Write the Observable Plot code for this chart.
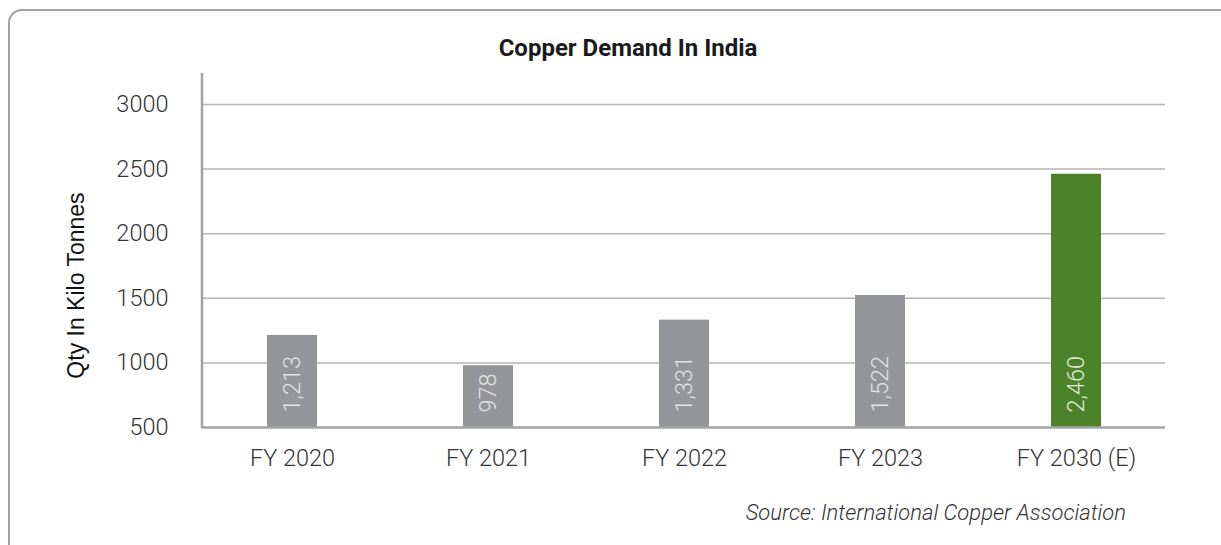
<!DOCTYPE html>
<html>
<head>
<meta charset="utf-8">
<script src="https://cdn.jsdelivr.net/npm/d3@7"></script>
<script src="https://cdn.jsdelivr.net/npm/@observablehq/plot@0.6"></script>
<style>
  html, body { margin: 0; padding: 0; background: #fff; }
  body { width: 1221px; height: 545px; overflow: hidden; position: relative; font-family: Roboto, "Open Sans", sans-serif; }
  #box { position: absolute; left: 8px; top: 9px; width: 1250px; height: 580px; border: 2px solid #a2a2a2; border-radius: 14px; box-sizing: border-box; }
  #title { position: absolute; top: 34px; left: 378px; width: 500px; text-align: center; font-size: 24px; font-weight: 700; color: #1a1a1a; }
  #chart { position: absolute; left: 0; top: 0; }
  #source { position: absolute; right: 95px; top: 500px; font-size: 22px; font-style: italic; font-weight: 300; color: #333; }
</style>
</head>
<body>
<div id="box"></div>
<div id="title">Copper Demand In India</div>
<div id="chart"></div>
<div id="source">Source: International Copper Association</div>
<script>
const years = ["FY 2020", "FY 2021", "FY 2022", "FY 2023", "FY 2030 (E)"];
const demand = [1213, 978, 1331, 1522, 2460];
const barColors = ["#939598", "#939598", "#939598", "#939598", "#4c822a"];
const labelColors = ["#e2e2e3", "#e2e2e3", "#e2e2e3", "#e2e2e3", "#e4ecdc"];
const yTicks = [500, 1000, 1500, 2000, 2500, 3000];
const yLabel = "Qty In Kilo Tonnes";

const data = years.map((y, i) => ({year: y, value: demand[i], color: barColors[i], label: labelColors[i]}));
const fmt = d3.format(",");

const axisLine = (index, scales, values, dimensions) => {
  const ns = "http://www.w3.org/2000/svg";
  const l = document.createElementNS(ns, "line");
  l.setAttribute("x1", dimensions.marginLeft);
  l.setAttribute("x2", dimensions.marginLeft);
  l.setAttribute("y1", dimensions.marginTop);
  l.setAttribute("y2", dimensions.height - dimensions.marginBottom + 1);
  l.setAttribute("stroke", "#a3a3a3");
  l.setAttribute("stroke-width", 2.5);
  return l;
};

const chart = Plot.plot({
  width: 1221,
  height: 490,
  marginLeft: 202,
  marginRight: 56,
  marginTop: 73,
  marginBottom: 63,
  style: {fontFamily: "Roboto", fontSize: "23px", color: "#333", background: "transparent"},
  x: {domain: years, paddingInner: 0.746, paddingOuter: 0.32, align: 0.5, label: null},
  y: {domain: [500, 3240], label: null},
  color: {type: "identity"},
  marks: [
    Plot.ruleY(yTicks.filter(t => t > 500), {stroke: "#b3b3b3", strokeWidth: 1.5}),
    Plot.barY(data, {x: "year", y1: () => 500, y2: "value", fill: "color"}),
    Plot.ruleY([500], {stroke: "#a3a3a3", strokeWidth: 2.5}),
    axisLine,
    Plot.text(data, {x: "year", y: () => 500, text: d => fmt(d.value), rotate: -90, textAnchor: "start", dy: -15, fill: "label", fontSize: 23.5, fontWeight: 300}),
    Plot.axisX({tickSize: 0, tickPadding: 22, fontSize: 23.5, fontWeight: 300, fill: "#333", label: null}),
    Plot.axisY({ticks: yTicks, tickFormat: d => String(d), tickSize: 0, tickPadding: 34, fontSize: 23.5, fontWeight: 300, fill: "#333", label: null}),
    Plot.text([yLabel], {frameAnchor: "left", text: d => d, rotate: -90, textAnchor: "middle", dx: -126, dy: 35, fontSize: 23, fontFamily: "Liberation Sans", fill: "#111"})
  ]
});
document.getElementById("chart").appendChild(chart);
</script>
</body>
</html>
